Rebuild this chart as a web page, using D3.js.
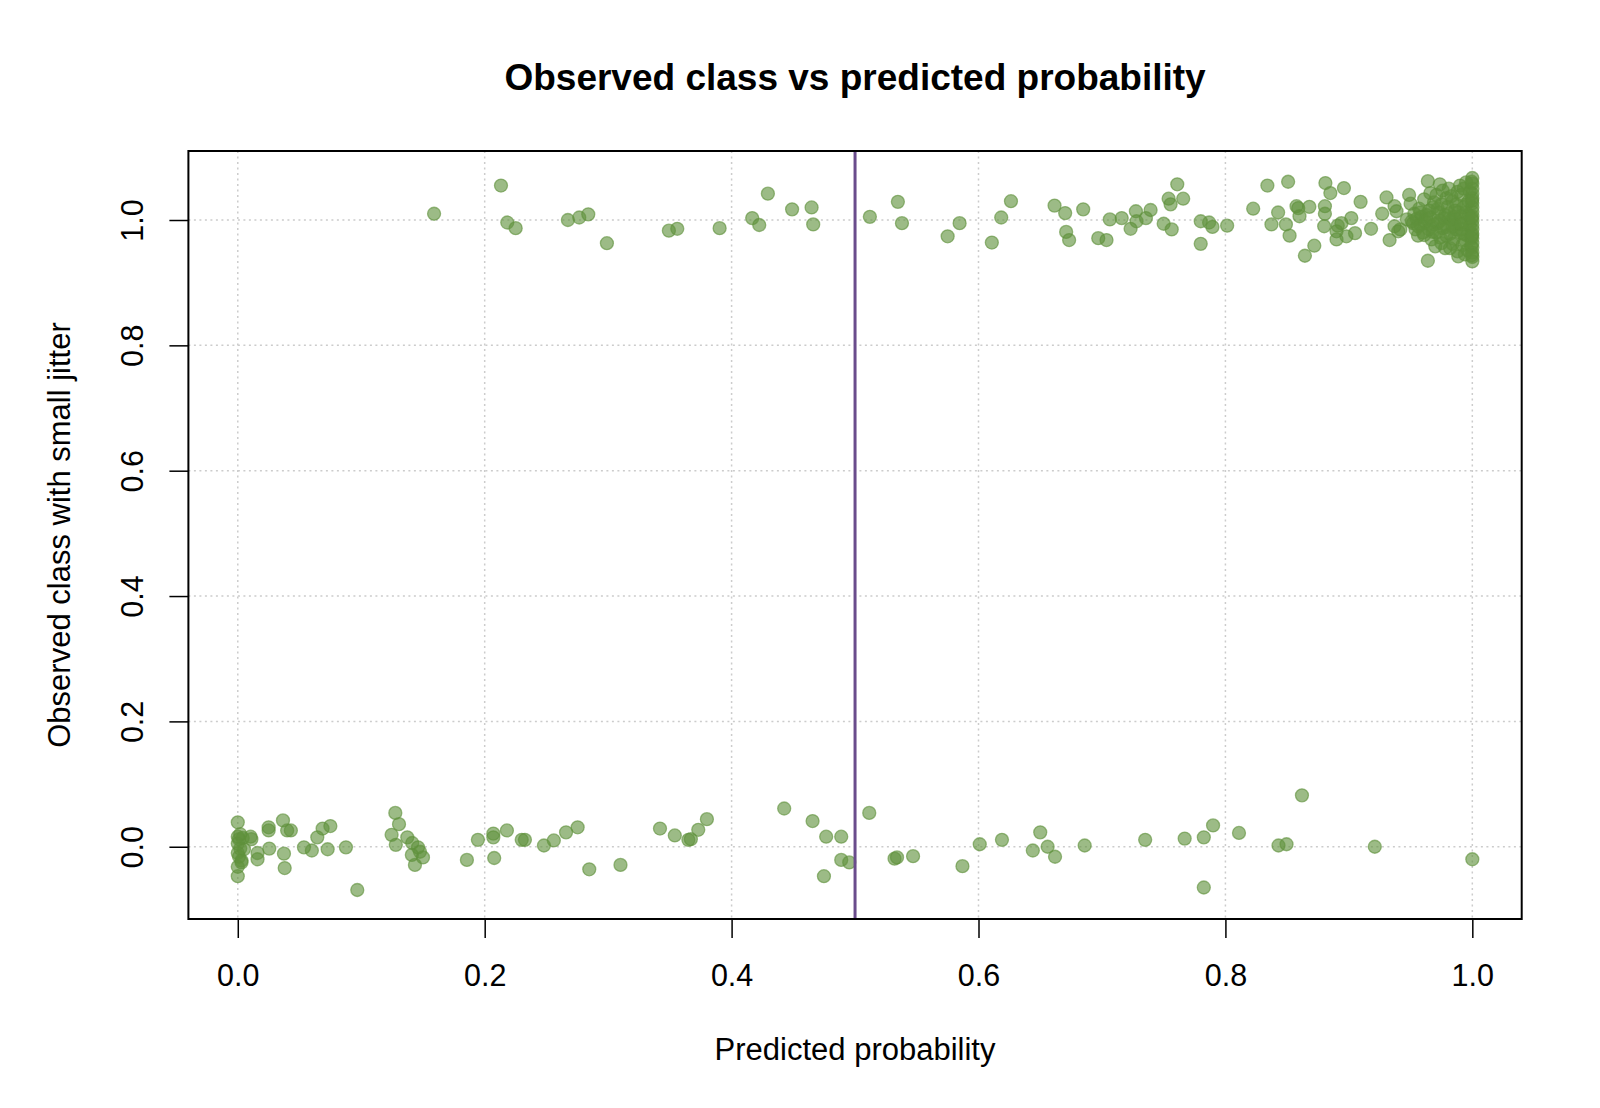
<!DOCTYPE html>
<html lang="en">
<head>
<meta charset="utf-8">
<style>
    body { margin: 0; background: #fff; }
    text { font-family: "Liberation Sans", Arial, sans-serif; fill: #000; }
    .title { font-size: 37px; font-weight: bold; }
    .lab { font-size: 31px; }
    .grid line { stroke: #cccccc; stroke-width: 1.5; stroke-dasharray: 2,3.5; }
</style>
<script src="https://d3js.org/d3.v7.min.js"></script>
</head>
<body>
<svg width="1600" height="1108"></svg>
<script>
    // observed class 0: predicted probability and jitter
    var prob0 = [0.000, 0.000, 0.001, 0.000, 0.002, 0.000, 0.001, 0.003, 0.000, 0.000, 0.004, 0.005, 0.003, 0.002,
        0.0104, 0.011, 0.016, 0.016, 0.025, 0.025, 0.0255, 0.0366, 0.0374, 0.038, 0.040, 0.043, 0.0536, 0.060,
        0.0644, 0.0687, 0.075, 0.0728, 0.0876, 0.0968,
        0.1276, 0.1306, 0.1246, 0.128, 0.1373, 0.1413, 0.146, 0.1476, 0.141, 0.150, 0.1435,
        0.1856, 0.1945, 0.207, 0.207, 0.2077, 0.218, 0.230, 0.2326, 0.248, 0.256, 0.2659, 0.2753, 0.2847, 0.310,
        0.342, 0.354, 0.365, 0.367, 0.373, 0.380, 0.4426, 0.4656, 0.4766, 0.4888, 0.4748, 0.4888, 0.4953,
        0.5115, 0.532, 0.534, 0.547, 0.587, 0.601, 0.619, 0.650, 0.644, 0.656, 0.662,
        0.686, 0.735, 0.767, 0.7825, 0.7825, 0.790, 0.811, 0.843, 0.8495, 0.862, 0.921, 1.000];
    var jit0 = [0.039, 0.016, 0.012, 0.005, -0.003, -0.010, -0.016, -0.022, -0.032, -0.047, 0.014, -0.004, -0.025, 0.020,
        0.016, 0.012, -0.010, -0.020, 0.031, 0.026, -0.003, 0.042, -0.011, -0.034, 0.026, 0.026, -0.001, -0.006,
        0.015, 0.029, 0.033, -0.004, -0.001, -0.069,
        0.054, 0.036, 0.019, 0.003, 0.015, 0.006, -0.001, -0.008, -0.013, -0.017, -0.029,
        -0.021, 0.011, 0.021, 0.015, -0.018, 0.026, 0.011, 0.011, 0.002, 0.010, 0.023, 0.031, -0.036, -0.029,
        0.029, 0.018, 0.011, 0.012, 0.027, 0.044, 0.061, 0.041, 0.016, 0.016, -0.047, -0.021, -0.025,
        0.054, -0.019, -0.017, -0.015, -0.031, 0.004, 0.011, 0.023, -0.006, 0.000, -0.016,
        0.002, 0.011, 0.013, 0.015, -0.065, 0.034, 0.022, 0.002, 0.004, 0.082, 0.000, -0.020];

    // observed class 1: predicted probability and jitter (offset from 1)
    var prob1 = [0.159, 0.2132, 0.2183, 0.2251, 0.2674, 0.2766, 0.2839, 0.299,
        0.3492, 0.356, 0.3903, 0.4167, 0.4224, 0.4294, 0.449, 0.4648, 0.4661, 0.512, 0.5347, 0.538, 0.575, 0.5847,
        0.6108, 0.6184, 0.6263, 0.6616, 0.6702, 0.671, 0.6734,
        0.6848, 0.697, 0.7037, 0.7064, 0.716, 0.7232, 0.7275, 0.728, 0.7356, 0.7394, 0.750, 0.754, 0.7565, 0.7556,
        0.761, 0.7658, 0.780, 0.780, 0.7868, 0.7895, 0.8014,
        0.8225, 0.834, 0.8373, 0.8427, 0.849, 0.8508, 0.852, 0.8576, 0.859, 0.860, 0.8644, 0.872, 0.868, 0.881,
        0.885, 0.8806, 0.8806, 0.880, 0.896, 0.891, 0.890, 0.890, 0.894, 0.898, 0.902, 0.905, 0.9095, 0.918,
        0.927, 0.9305, 0.933, 0.937, 0.9386, 0.937, 0.940, 0.9488, 0.950, 0.947, 0.9417,
        0.952, 0.953, 0.954, 0.955, 0.956, 0.957, 0.958, 0.959, 0.951, 0.956, 0.958, 0.960,
        0.961, 0.964, 0.964, 0.962, 0.963, 0.965, 0.966, 0.967, 0.968, 0.969, 0.961, 0.963, 0.965, 0.967, 0.969, 0.970, 0.966, 0.968,
        0.9737, 0.971, 0.972, 0.973, 0.974, 0.975, 0.976, 0.977, 0.978, 0.979, 0.971, 0.972, 0.974, 0.975, 0.976, 0.977, 0.978, 0.979, 0.980, 0.980,
        0.981, 0.982, 0.983, 0.984, 0.985, 0.986, 0.987, 0.9886, 0.988, 0.989, 0.981, 0.982, 0.983, 0.984, 0.985, 0.986, 0.987, 0.988, 0.989, 0.990, 0.990, 0.984, 0.986,
        0.991, 0.992, 0.993, 0.994, 0.995, 0.996, 0.997, 0.998, 0.991, 0.992, 0.993, 0.994, 0.995, 0.996, 0.997, 0.998, 0.999, 0.991, 0.993, 0.995, 0.997, 0.999,
        1.0, 1.0, 1.0, 1.0, 1.0, 1.0, 1.0, 1.0, 1.0, 1.0, 1.0, 1.0, 1.0, 1.0, 1.0, 1.0, 1.0, 1.0, 1.0,
        0.9995, 0.9995, 0.9995, 0.9998, 0.9998];
    var jit1 = [0.010, 0.055, -0.004, -0.013, 0.000, 0.004, 0.009, -0.037,
        -0.017, -0.014, -0.013, 0.003, -0.008, 0.042, 0.017, 0.020, -0.007, 0.005, 0.029, -0.005, -0.026, -0.005,
        -0.036, 0.004, 0.030, 0.023, 0.011, -0.019, -0.032,
        0.017, -0.029, -0.032, 0.001, 0.003, -0.014, 0.014, -0.002, 0.003, 0.016, -0.006, 0.034, -0.015, 0.025,
        0.057, 0.034, -0.038, -0.002, -0.004, -0.011, -0.009,
        0.018, 0.055, -0.007, 0.012, -0.007, 0.061, -0.025, 0.022, 0.019, 0.006, -0.057, -0.041, 0.021, 0.059,
        0.043, 0.022, 0.010, -0.010, 0.051, -0.009, -0.018, -0.031, -0.005, -0.026, 0.003, -0.021, 0.029, -0.014,
        0.010, 0.036, -0.032, 0.022, 0.014, -0.010, -0.018, 0.040, 0.026, 0.001, -0.015,
        -0.005, 0.010, -0.015, 0.002, -0.025, 0.018, -0.008, 0.005, -0.002, -0.010, 0.012, -0.020,
        0.033, 0.062, -0.065, -0.003, 0.008, -0.015, 0.043, -0.031, 0.020, -0.007, -0.024, 0.001, 0.015, -0.010, 0.028, -0.042, 0.004, -0.019,
        0.057, 0.040, -0.005, 0.012, -0.028, 0.025, -0.013, 0.003, -0.045, 0.035, -0.020, 0.018, -0.001, -0.037, 0.047, -0.008, 0.008, -0.025, 0.021, -0.011,
        0.050, -0.045, 0.000, 0.030, -0.030, 0.015, -0.015, -0.058, 0.045, -0.005, 0.010, -0.022, 0.038, -0.038, 0.005, -0.007, 0.025, -0.050, 0.012, -0.020, 0.055, -0.010, 0.002,
        0.040, -0.040, 0.020, -0.055, 0.060, -0.025, 0.030, -0.010, 0.005, -0.015, 0.050, -0.032, 0.012, -0.048, -0.002, 0.045, -0.028, -0.007, -0.022, 0.025, 0.008, -0.042,
        0.067, 0.058, 0.050, 0.042, 0.035, 0.027, 0.020, 0.013, 0.006, -0.001, -0.008, -0.015, -0.022, -0.029, -0.037, -0.044, -0.052, -0.059, -0.066,
        0.061, 0.003, -0.056, 0.031, -0.025];

    var xTicks = [0, 0.2, 0.4, 0.6, 0.8, 1.0];
    var yTicks = [0, 0.2, 0.4, 0.6, 0.8, 1.0];
    var cutoff = 0.5;

    var svg = d3.select("svg");
    var pLeft = 188.4, pRight = 1521.7, pTop = 151, pBottom = 919;

    var x = d3.scaleLinear().domain([-0.04, 1.04]).range([pLeft, pRight]);
    var y = d3.scaleLinear().domain([-0.1153, 1.1101]).range([pBottom, pTop]);

    // grid
    var grid = svg.append("g").attr("class", "grid");
    grid.selectAll(".vx").data(xTicks).enter().append("line")
        .attr("x1", function(d) { return x(d); }).attr("x2", function(d) { return x(d); })
        .attr("y1", pTop).attr("y2", pBottom);
    grid.selectAll(".hy").data(yTicks).enter().append("line")
        .attr("x1", pLeft).attr("x2", pRight)
        .attr("y1", function(d) { return y(d); }).attr("y2", function(d) { return y(d); });

    // points
    var pts = [];
    prob0.forEach(function(p, i) { pts.push({p: p, o: 0 + jit0[i]}); });
    prob1.forEach(function(p, i) { pts.push({p: p, o: 1 + jit1[i]}); });

    svg.append("g").selectAll("circle").data(pts).enter().append("circle")
        .attr("cx", function(d) { return x(d.p); })
        .attr("cy", function(d) { return y(d.o); })
        .attr("r", 6.5)
        .attr("fill", "rgba(95,145,60,0.62)")
        .attr("stroke", "rgba(95,145,60,0.62)")
        .attr("stroke-width", 1.3);

    // cutoff line
    svg.append("line")
        .attr("x1", x(cutoff)).attr("x2", x(cutoff))
        .attr("y1", pTop).attr("y2", pBottom)
        .attr("stroke", "#6a4c8c").attr("stroke-width", 3);

    // axes
    var xAxis = d3.axisBottom(x).tickValues(xTicks).tickSize(19).tickFormat(d3.format(".1f"));
    var gx = svg.append("g").attr("transform", "translate(0," + pBottom + ")").call(xAxis);
    gx.select(".domain").attr("stroke", "none");
    gx.selectAll(".tick line").attr("stroke", "#000").attr("stroke-width", 1.5);
    gx.selectAll(".tick text").attr("class", "lab")
        .attr("y", 56.5).attr("dy", "0.35em");

    var yAxis = d3.axisLeft(y).tickValues(yTicks).tickSize(19).tickFormat(d3.format(".1f"));
    var gy = svg.append("g").attr("transform", "translate(" + pLeft + ",0)").call(yAxis);
    gy.select(".domain").attr("stroke", "none");
    gy.selectAll(".tick line").attr("stroke", "#000").attr("stroke-width", 1.5);
    gy.selectAll(".tick text").attr("class", "lab")
        .attr("x", null)
        .attr("text-anchor", "middle")
        .attr("transform", "translate(" + (132.7 - pLeft) + ",0) rotate(-90)")
        .attr("dy", "0.35em");
    svg.selectAll(".tick text").attr("font-size", null).attr("font-family", null)
        .style("font-size", "30.5px").style("font-family", "'Liberation Sans', Arial, sans-serif");

    // box
    svg.append("rect")
        .attr("x", pLeft).attr("y", pTop)
        .attr("width", pRight - pLeft).attr("height", pBottom - pTop)
        .attr("fill", "none").attr("stroke", "#000").attr("stroke-width", 2);

    // titles
    svg.append("text").attr("class", "title")
        .attr("x", (pLeft + pRight) / 2).attr("y", 77.5).attr("dy", "0.35em")
        .attr("text-anchor", "middle")
        .text("Observed class vs predicted probability");

    svg.append("text").attr("class", "lab")
        .attr("x", (pLeft + pRight) / 2).attr("y", 1049).attr("dy", "0.35em")
        .attr("text-anchor", "middle")
        .text("Predicted probability");

    svg.append("text").attr("class", "lab")
        .attr("transform", "translate(59," + (pTop + pBottom) / 2 + ") rotate(-90)")
        .attr("dy", "0.35em")
        .attr("text-anchor", "middle")
        .text("Observed class with small jitter");
</script>
</body>
</html>
